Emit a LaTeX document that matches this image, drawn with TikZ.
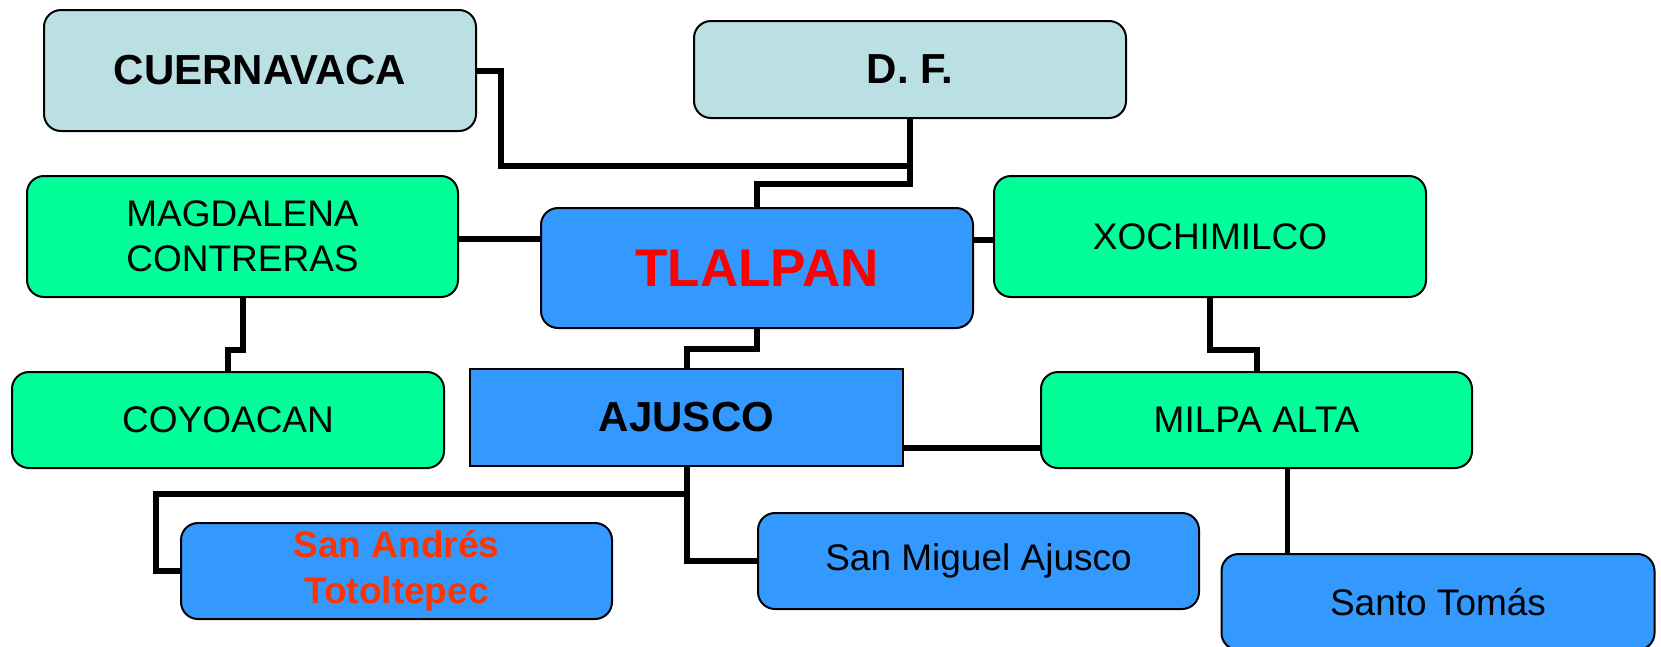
\documentclass[tikz,border=0pt]{standalone}
\usepackage{fontspec}
\setmainfont{Liberation Sans}
\usetikzlibrary{calc}
\definecolor{lblue}{HTML}{BBE0E3}
\definecolor{bgreen}{HTML}{00FF99}
\definecolor{bblue}{HTML}{3399FF}
\definecolor{tred}{HTML}{FF0000}
\definecolor{ored}{HTML}{FF3300}
\tikzset{
  boxbase/.style={draw=black, line width=2pt, inner sep=0pt, align=center, text=black},
  rbox/.style={boxbase, rounded corners=17pt},
  sqbox/.style={boxbase},
  bigfont/.style={font=\fontsize{42}{50}\bfseries\selectfont},
  regfont/.style={font=\fontsize{37}{45}\selectfont},
  conn/.style={draw=black, line width=6pt, line join=miter},
  thinconn/.style={draw=black, line width=5pt},
}
\begin{document}
\begin{tikzpicture}[x=1pt,y=-1pt]
\useasboundingbox (0,0) rectangle (1661,646);
\clip (0,0) rectangle (1661,646);
\coordinate (j1) at (911,166);
\coordinate (j2) at (686.5,494);
% nodes
\node[rbox, bigfont, fill=lblue, minimum width=432pt, minimum height=121pt] (cuer) at (260,70.5) {CUERNAVACA};
\node[rbox, bigfont, fill=lblue, minimum width=432pt, minimum height=97pt] (df) at (910,69.5) {D. F.};
\node[rbox, regfont, fill=bgreen, minimum width=431pt, minimum height=121pt] (mag) at (242.5,236.5) {MAGDALENA\\CONTRERAS};
\node[rbox, fill=bblue, minimum width=432pt, minimum height=120pt, font=\fontsize{53}{60}\bfseries\selectfont, text=tred] (tlal) at (757,268) {TLALPAN};
\node[rbox, regfont, fill=bgreen, minimum width=432pt, minimum height=121pt] (xoch) at (1210,236.5) {XOCHIMILCO};
\node[rbox, regfont, fill=bgreen, minimum width=432pt, minimum height=96pt] (coy) at (228,420) {COYOACAN};
\node[sqbox, bigfont, fill=bblue, minimum width=433pt, minimum height=97pt] (ajus) at (686.5,417.5) {AJUSCO};
\node[rbox, regfont, fill=bgreen, minimum width=431pt, minimum height=96pt] (milpa) at (1256.5,420) {MILPA ALTA};
\node[rbox, fill=bblue, minimum width=431pt, minimum height=96pt, font=\fontsize{37}{46}\bfseries\selectfont, text=ored] (sand) at (396.5,571) {San Andrés\\Totoltepec};
\node[rbox, regfont, fill=bblue, minimum width=441pt, minimum height=96pt] (smig) at (978.5,561) {San Miguel Ajusco};
\node[rbox, regfont, fill=bblue, minimum width=433pt, minimum height=96pt] (stom) at (1438,602) {Santo Tomás};
% connectors
\draw[conn] (cuer.east) -- ++(24,0) |- (j1);
\draw[conn] (df.south) -- ++(0,65) -| (tlal.north);
\draw[conn] ($(mag.east)+(0,2.5)$) -- ($(mag.east -| tlal.west)+(0,2.5)$);
\draw[conn] ($(xoch.west -| tlal.east)+(0,3)$) -- ($(xoch.west)+(0,3)$);
\draw[conn] (mag.south) -- ++(0,51.5) -| (coy.north);
\draw[conn] (tlal.south) -- ++(0,20) -| (ajus.north);
\draw[conn] (xoch.south) -- ++(0,51.5) -| (milpa.north);
\draw[conn] ($(ajus.east)+(0,30.5)$) -- ($(milpa.west |- ajus.east)+(0,30.5)$);
\draw[conn] (ajus.south) -- (j2) -- ++(-530.5,0) |- (sand.west);
\draw[conn] (j2) |- (smig.west);
\draw[thinconn] ($(milpa.south)+(31,0)$) -- ($(stom.north)+(-150.5,0)$);
\end{tikzpicture}
\end{document}
